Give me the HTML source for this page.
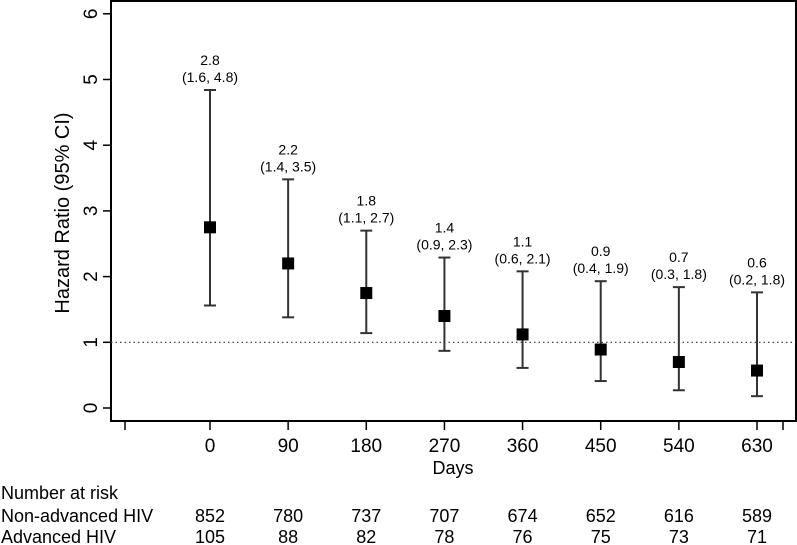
<!DOCTYPE html>
<html><head><meta charset="utf-8"><style>
body{margin:0;background:#fff}
svg{font-family:"Liberation Sans",Arial,sans-serif;display:block}
</style></head><body>
<svg id="c" width="797" height="545"></svg>
<script>
const days=[0,90,180,270,360,450,540,630];
const hr=[2.75,2.2,1.75,1.4,1.12,0.89,0.7,0.57];
const lo=[1.56,1.38,1.14,0.87,0.61,0.41,0.27,0.18];
const hi=[4.84,3.48,2.7,2.29,2.08,1.93,1.84,1.76];
const hrLabels=["2.8","2.2","1.8","1.4","1.1","0.9","0.7","0.6"];
const ciLabels=["(1.6, 4.8)","(1.4, 3.5)","(1.1, 2.7)","(0.9, 2.3)","(0.6, 2.1)","(0.4, 1.9)","(0.3, 1.8)","(0.2, 1.8)"];
const yTicks=[0,1,2,3,4,5,6];
const riskNonAdv=[852,780,737,707,674,652,616,589];
const riskAdv=[105,88,82,78,76,75,73,71];
const NS="http://www.w3.org/2000/svg";
const svg=document.getElementById('c');
const X=d=>210+d*(757-210)/630;
const Y=v=>408-v*65.7;
function mk(t,a,txt){const e=document.createElementNS(NS,t);for(const k in a)e.setAttribute(k,a[k]);if(txt!==undefined)e.textContent=txt;svg.appendChild(e);return e;}
let e;
e=mk('rect',{x:111,y:1,width:685,height:420,fill:'none',stroke:'#000','stroke-width':2});

e=mk('line',{x1:111,x2:796,y1:Y(1),y2:Y(1),stroke:'#333','stroke-width':1.2,'stroke-dasharray':'1.5,3'});

yTicks.forEach(v=>{
 e=mk('line',{x1:103,x2:111,y1:Y(v),y2:Y(v),stroke:'#000','stroke-width':1.5});
 
 e=mk('text',{x:0,y:0,transform:`translate(97,${Y(v)}) rotate(-90)`,'text-anchor':'middle','font-size':19},v);
 
});
e=mk('text',{x:0,y:0,transform:`translate(69,213) rotate(-90)`,'text-anchor':'middle','font-size':20},'Hazard Ratio (95% CI)');

[125,783].forEach(x=>{e=mk('line',{x1:x,x2:x,y1:421,y2:430,stroke:'#000','stroke-width':1.5});
 });
days.forEach((d,i)=>{
 e=mk('line',{x1:X(d),x2:X(d),y1:421,y2:430,stroke:'#000','stroke-width':1.5});
 
 e=mk('text',{x:X(d),y:452,'text-anchor':'middle','font-size':19},d);
 
 e=mk('line',{x1:X(d),x2:X(d),y1:Y(lo[i]),y2:Y(hi[i]),stroke:'#333','stroke-width':2});
 
 [lo[i],hi[i]].forEach(v=>{e=mk('line',{x1:X(d)-6,x2:X(d)+6,y1:Y(v),y2:Y(v),stroke:'#333','stroke-width':2});
  });
 e=mk('rect',{x:X(d)-6,y:Y(hr[i])-6,width:12,height:12,fill:'#000'});
 
 e=mk('text',{x:X(d),y:Y(hi[i])-25,'text-anchor':'middle','font-size':14},hrLabels[i]);
 
 e=mk('text',{x:X(d),y:Y(hi[i])-8,'text-anchor':'middle','font-size':14},ciLabels[i]);
 
 e=mk('text',{x:X(d),y:522,'text-anchor':'middle','font-size':18},riskNonAdv[i]);
 
 e=mk('text',{x:X(d),y:543,'text-anchor':'middle','font-size':18},riskAdv[i]);
 
});
e=mk('text',{x:453,y:474,'text-anchor':'middle','font-size':18},'Days');

e=mk('text',{x:1,y:499,'font-size':18},'Number at risk');

e=mk('text',{x:1,y:522,'font-size':18},'Non-advanced HIV');

e=mk('text',{x:1,y:543,'font-size':18},'Advanced HIV');

</script>
</body></html>
